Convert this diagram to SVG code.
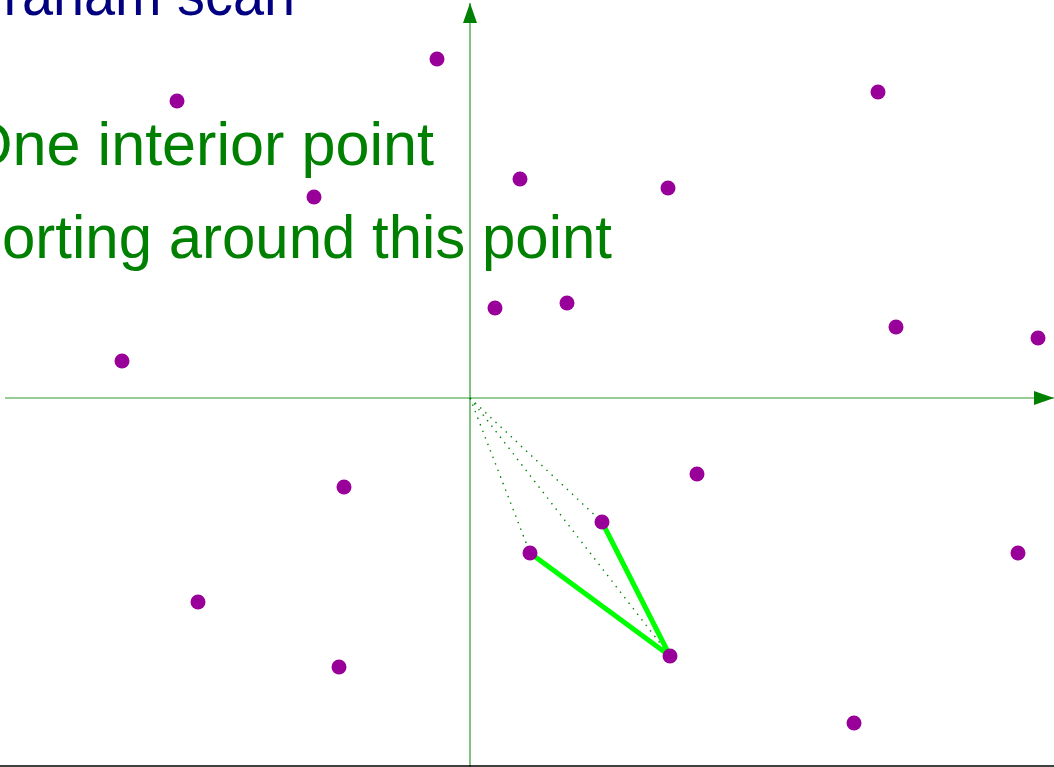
<svg xmlns="http://www.w3.org/2000/svg" width="1054" height="767" viewBox="0 0 1054 767">
<style>
.title{font-family:"Liberation Sans",Arial,sans-serif;font-size:62px;fill:#000080}
.txt{font-family:"Liberation Sans",Arial,sans-serif;font-size:62px;fill:#008000}
.axis{stroke:#2e9a2e;stroke-width:1.2;fill:none}
.dot{fill:#990099}
.dotted{stroke:#008000;stroke-width:1.4;stroke-dasharray:1.4 5.6;fill:none}
.hull{stroke:#00ff00;stroke-width:5;fill:none;stroke-linecap:round}
</style>
<defs>
<marker id="ah" markerWidth="20" markerHeight="14" refX="20" refY="7" orient="auto" markerUnits="userSpaceOnUse">
<path d="M0,0 L20,7 L0,14 Z" fill="#008000"/>
</marker>
</defs>
<rect width="1054" height="767" fill="#fff"/>
<g id="texts">
<text class="title" x="-40" y="15" textLength="335" lengthAdjust="spacingAndGlyphs">Graham scan</text>
<text class="txt" x="-35" y="165" textLength="469" lengthAdjust="spacingAndGlyphs">One interior point</text>
<text class="txt" x="-38" y="258" textLength="650" lengthAdjust="spacingAndGlyphs">Sorting around this point</text>
</g>
<g id="connectors">
<line class="axis" x1="470" y1="767" x2="470" y2="3" marker-end="url(#ah)"/>
<line class="axis" x1="5" y1="398" x2="1054" y2="398" marker-end="url(#ah)"/>
<line class="dotted" x1="470" y1="398" x2="530" y2="553"/>
<line class="dotted" x1="470" y1="398" x2="602" y2="522"/>
<line class="dotted" x1="470" y1="398" x2="670" y2="656"/>
<line class="hull" x1="530" y1="553" x2="670" y2="656"/>
<line class="hull" x1="602" y1="522" x2="670" y2="656"/>
<line x1="0" y1="766" x2="1054" y2="766" stroke="#000" stroke-width="1.5"/>
</g>
<g id="points">
<circle class="dot" cx="437" cy="59" r="7.5"/>
<circle class="dot" cx="177" cy="101" r="7.5"/>
<circle class="dot" cx="878" cy="92" r="7.5"/>
<circle class="dot" cx="520" cy="179" r="7.5"/>
<circle class="dot" cx="668" cy="188" r="7.5"/>
<circle class="dot" cx="314" cy="197" r="7.5"/>
<circle class="dot" cx="495" cy="308" r="7.5"/>
<circle class="dot" cx="567" cy="303" r="7.5"/>
<circle class="dot" cx="896" cy="327" r="7.5"/>
<circle class="dot" cx="1038" cy="338" r="7.5"/>
<circle class="dot" cx="122" cy="361" r="7.5"/>
<circle class="dot" cx="697" cy="474" r="7.5"/>
<circle class="dot" cx="344" cy="487" r="7.5"/>
<circle class="dot" cx="602" cy="522" r="7.5"/>
<circle class="dot" cx="530" cy="553" r="7.5"/>
<circle class="dot" cx="1018" cy="553" r="7.5"/>
<circle class="dot" cx="198" cy="602" r="7.5"/>
<circle class="dot" cx="670" cy="656" r="7.5"/>
<circle class="dot" cx="339" cy="667" r="7.5"/>
<circle class="dot" cx="854" cy="723" r="7.5"/>
</g>
</svg>
